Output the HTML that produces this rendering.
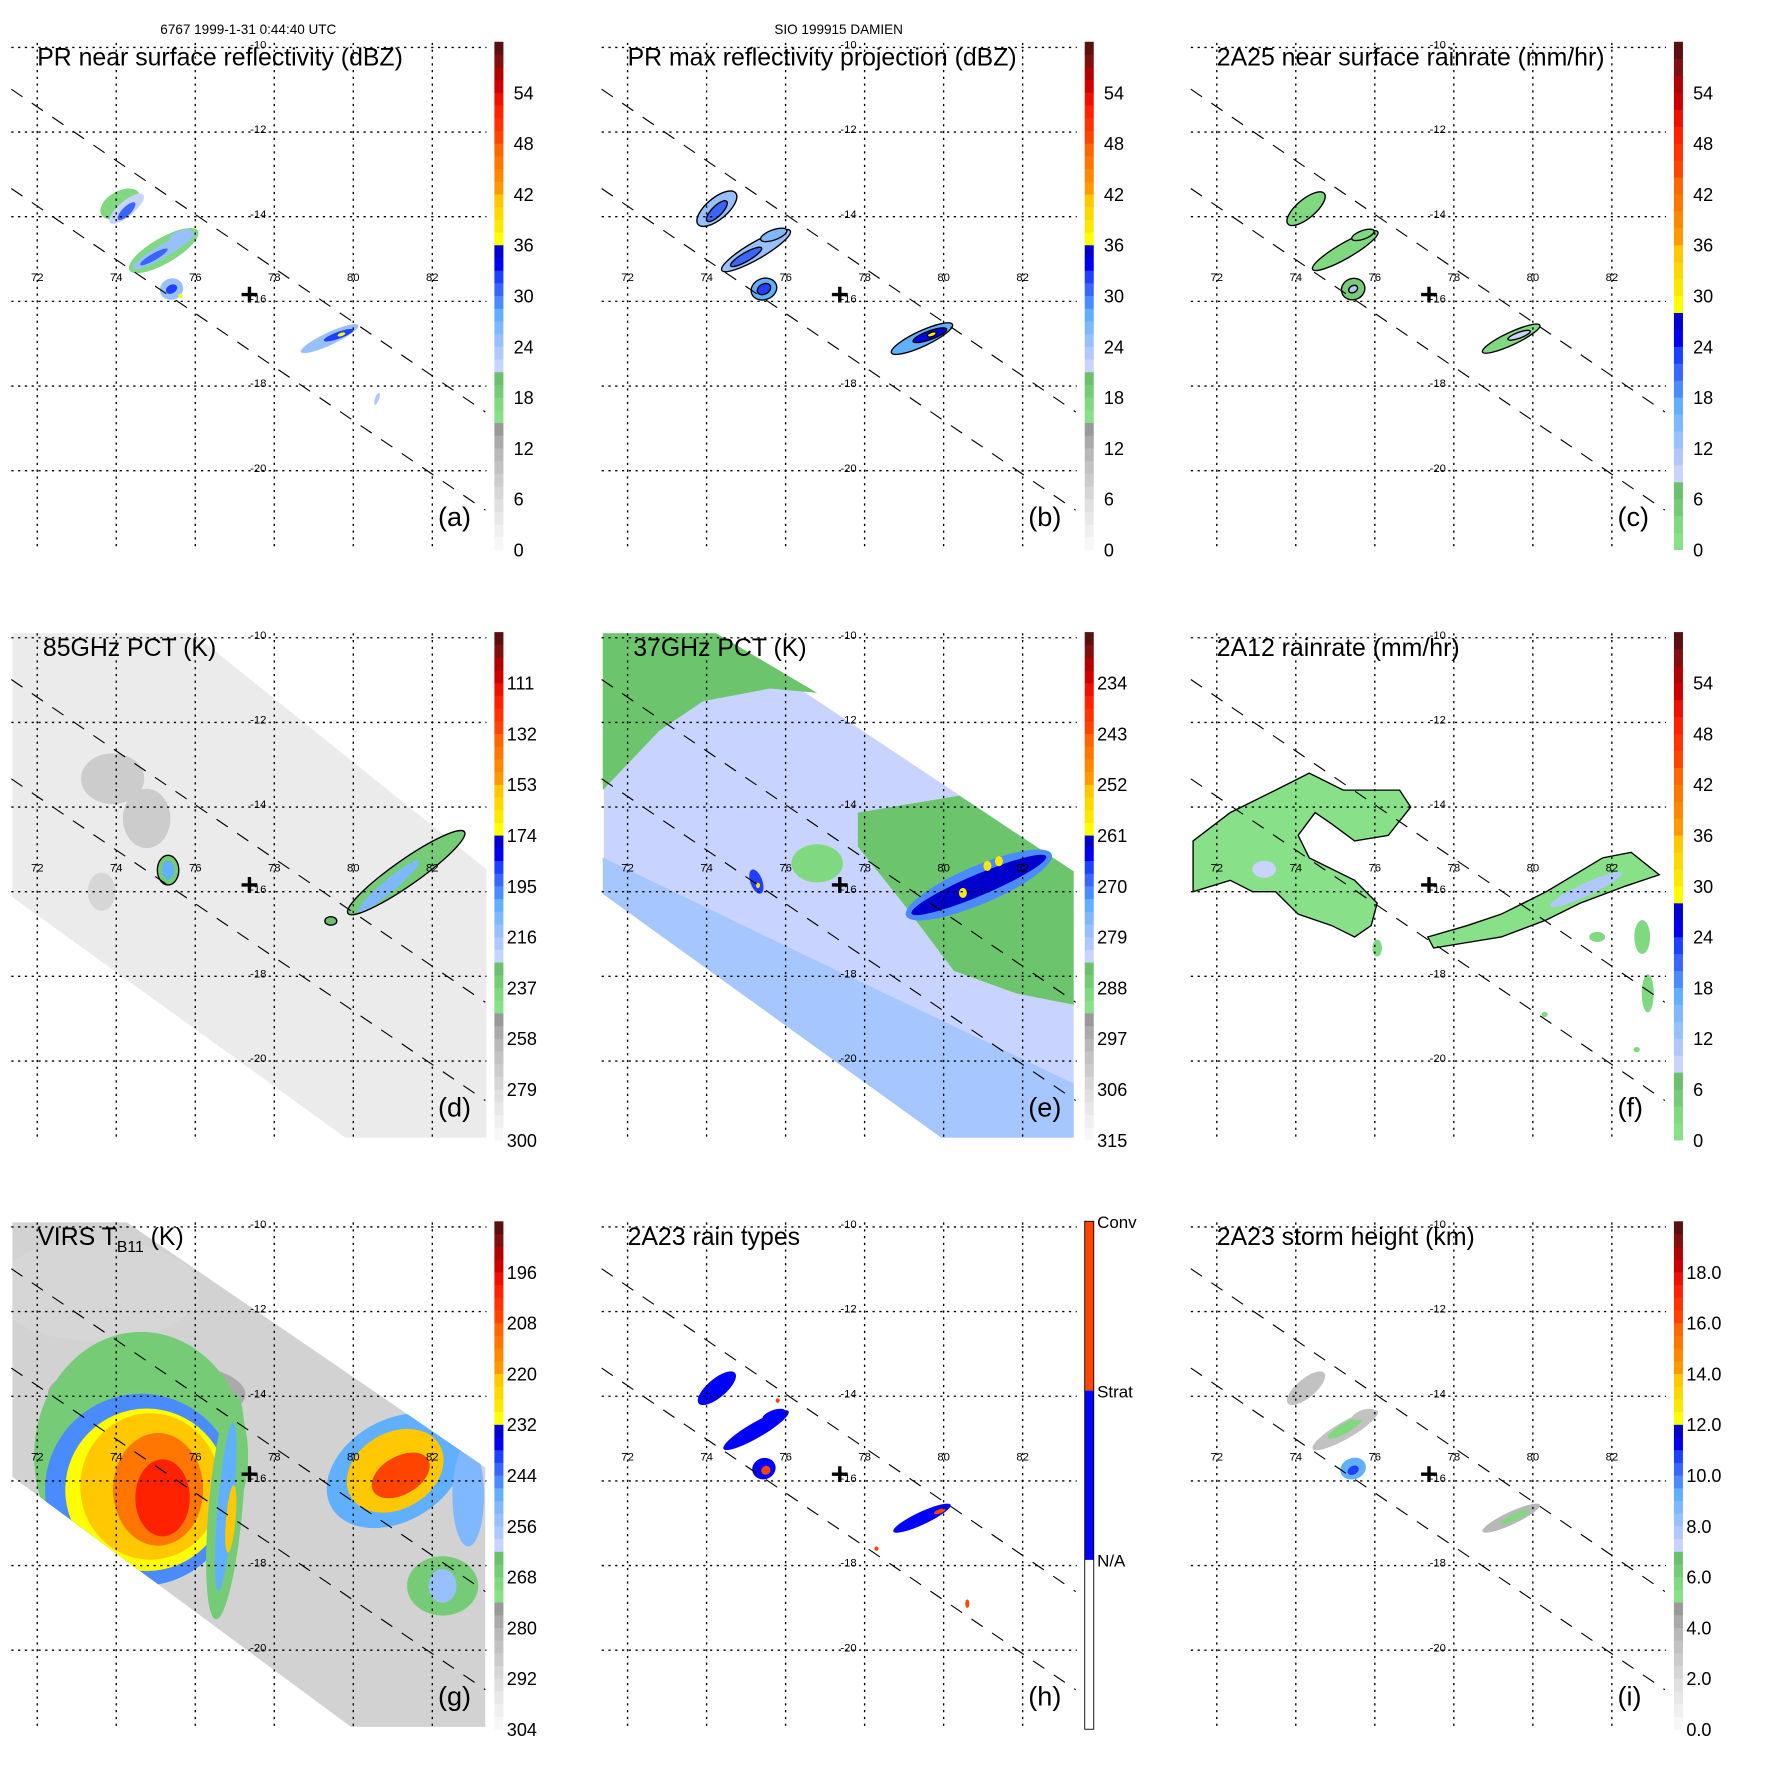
<!DOCTYPE html>
<html><head><meta charset="utf-8">
<style>
html,body{margin:0;padding:0;background:#fff;}
svg{display:block;font-family:"Liberation Sans",sans-serif;}
</style></head>
<body>
<svg id="chart" width="1771" height="1771" viewBox="0 0 1569 1569" xmlns="http://www.w3.org/2000/svg">
<text x="220" y="30" font-size="12" text-anchor="middle">6767 1999-1-31 0:44:40 UTC</text>
<text x="743" y="30" font-size="12" text-anchor="middle">SIO 199915 DAMIEN</text>
</svg>
<script>
// ---------- data ----------
const lonTicks=[72,74,76,78,80,82];
const latTicks=[-10,-12,-14,-16,-18,-20];
const titles=["PR near surface reflectivity (dBZ)","PR max reflectivity projection (dBZ)","2A25 near surface rainrate (mm/hr)","85GHz PCT (K)","37GHz PCT (K)","2A12 rainrate (mm/hr)","VIRS T","2A23 rain types","2A23 storm height (km)"];
const letters=["(a)","(b)","(c)","(d)","(e)","(f)","(g)","(h)","(i)"];
const ticksDBZ=["54","48","42","36","30","24","18","12","6","0"];
const ticks85=["111","132","153","174","195","216","237","258","279","300"];
const ticks37=["234","243","252","261","270","279","288","297","306","315"];
const ticksVIRS=["196","208","220","232","244","256","268","280","292","304"];
const ticksHeight=["18.0","16.0","14.0","12.0","10.0","8.0","6.0","4.0","2.0","0.0"];
const ticksRainType=["Conv","Strat","N/A"];
// blobs: [lon, lat, rxDeg, ryDeg, rotDeg, value]
const blobsA=[[74.1,-13.7,0.55,0.3,-30,17],[74.26,-13.81,0.55,0.18,-40,22],[74.26,-13.87,0.3,0.1,-45,30],[75.2,-14.8,1.0,0.3,-30,17],[75.2,-14.8,0.9,0.15,-30,24],[74.95,-14.95,0.4,0.08,-30,31],[75.63,-14.43,0.3,0.1,-20,25],[75.4,-15.71,0.3,0.25,-20,25],[75.4,-15.71,0.15,0.1,-30,32],[75.63,-15.87,0.06,0.05,0,37],[79.4,-16.88,0.8,0.15,-25,25],[79.63,-16.8,0.4,0.08,-20,32],[79.7,-16.78,0.1,0.04,-20,37],[80.6,-18.3,0.05,0.15,20,23]];
const blobsB=[[74.26,-13.81,0.62,0.25,-40,25],[74.26,-13.87,0.35,0.12,-45,31],[75.25,-14.8,1.0,0.2,-30,25],[75.0,-14.95,0.45,0.1,-30,31],[75.7,-14.43,0.35,0.12,-20,26],[75.45,-15.71,0.33,0.25,-20,27],[75.45,-15.71,0.18,0.12,-30,32],[79.45,-16.88,0.85,0.18,-25,27],[79.65,-16.8,0.45,0.1,-20,33],[79.7,-16.78,0.12,0.05,-20,38]];
const blobsC=[[74.26,-13.81,0.6,0.22,-40,3],[75.25,-14.8,0.95,0.18,-30,3],[75.7,-14.43,0.3,0.1,-20,3],[75.45,-15.71,0.3,0.25,-20,4],[75.45,-15.71,0.12,0.08,-30,10],[79.45,-16.88,0.8,0.15,-25,3],[79.65,-16.8,0.3,0.07,-20,9]];
const swathD=[[71.37,-9.87],[75.91,-9.87],[83.37,-15.47],[83.37,-21.81],[79.8,-21.81],[71.37,-16.13]];
const blobsD=[[73.91,-13.33,0.8,0.6,0,272],[74.77,-14.27,0.6,0.7,0,270],[73.63,-16.0,0.35,0.45,0,277],[75.31,-15.49,0.27,0.35,0,232],[75.31,-15.49,0.15,0.22,0,205],[79.43,-16.69,0.15,0.1,0,228],[81.34,-15.55,1.8,0.3,-35,234],[80.9,-15.87,1.0,0.15,-40,208]];
const swathE=[[71.4,-9.87],[74.2,-9.87],[83.29,-15.52],[83.29,-21.81],[79.94,-21.81],[71.4,-16.05]];
const greenTopE=[[71.37,-9.87],[74.2,-9.87],[76.8,-11.3],[75.6,-11.2],[73.91,-11.5],[72.8,-12.2],[71.37,-13.6]];
const greenRightE=[[77.83,-14.13],[80.4,-13.73],[83.29,-15.52],[83.29,-18.67],[81.83,-18.4],[80.26,-17.87],[78.97,-16.27],[77.83,-14.93]];
const darkLowE=[[71.37,-16.05],[79.94,-21.81],[83.29,-21.81],[83.29,-20.53],[76.11,-17.33],[71.37,-15.19]];
const blobsE=[[76.8,-15.33,0.65,0.45,0,290],[80.89,-15.84,2.0,0.45,-23,272],[80.89,-15.84,1.85,0.25,-23,263],[80.49,-16.03,0.1,0.12,0,258],[81.11,-15.39,0.1,0.12,0,258],[81.4,-15.28,0.1,0.12,0,258],[75.26,-15.76,0.15,0.3,-20,266],[75.3,-15.85,0.05,0.06,0,258]];
const greenLeftF=[[71.4,-14.8],[72.34,-14.13],[73.49,-13.6],[74.34,-13.2],[75.2,-13.6],[76.63,-13.6],[76.91,-14],[76.34,-14.67],[75.49,-14.8],[74.91,-14.4],[74.49,-14.13],[74.06,-14.67],[74.34,-15.2],[75.49,-15.73],[76.06,-16.27],[75.91,-16.8],[75.49,-17.07],[74.91,-16.8],[74.06,-16.53],[73.49,-16],[72.91,-16],[72.34,-15.73],[71.4,-16]];
const greenBandF=[[77.34,-17.07],[78.34,-16.8],[79.2,-16.53],[80.34,-16],[81.77,-15.2],[82.49,-15.07],[83.2,-15.6],[82.34,-15.87],[81.2,-16.27],[80.34,-16.67],[79.2,-17.07],[78.34,-17.2],[77.49,-17.33]];
const blobsF=[[81.34,-15.95,1.0,0.15,-25,10],[73.2,-15.47,0.3,0.2,0,9],[82.77,-17.07,0.2,0.4,0,3],[82.91,-18.4,0.15,0.45,0,3],[81.63,-17.07,0.2,0.12,0,3],[76.06,-17.33,0.12,0.2,0,3],[82.63,-19.73,0.08,0.06,0,3],[80.3,-18.9,0.08,0.06,0,3]];
const swathG=[[71.37,-9.87],[74.23,-9.87],[83.34,-15.68],[83.34,-21.81],[79.94,-21.81],[71.37,-15.9]];
const blobsG=[[73.5,-11.5,2.6,1.2,0,292],[74.77,-13.95,2.5,0.8,0,279],[74.63,-15.41,2.71,2.93,0,266],[74.63,-16.21,2.43,2.27,0,245],[74.77,-16.21,2.06,1.92,0,231],[74.86,-16.13,1.77,1.73,0,221],[75.06,-16.2,1.14,1.33,0,213],[75.17,-16.4,0.69,0.91,0,201],[76.77,-16.61,0.43,2.67,5,266],[76.77,-16.61,0.2,2.0,5,250],[76.9,-16.9,0.12,0.8,5,222],[81.06,-15.76,1.86,1.2,-30,248],[81.06,-15.76,1.3,0.9,-30,222],[81.2,-15.87,0.8,0.45,-30,208],[82.26,-18.48,0.9,0.7,0,266],[82.26,-18.48,0.35,0.4,0,255],[82.91,-16.35,0.4,1.2,0,252]];
const blobsH=[[74.26,-13.81,0.6,0.22,-40,1],[75.25,-14.8,0.95,0.18,-30,1],[75.7,-14.43,0.3,0.1,-20,1],[75.45,-15.71,0.3,0.25,-20,1],[75.5,-15.75,0.12,0.1,-30,2],[79.45,-16.88,0.8,0.15,-25,1],[79.9,-16.72,0.15,0.05,-20,2],[75.8,-14.1,0.05,0.05,0,2],[78.3,-17.6,0.05,0.05,0,2],[80.6,-18.9,0.05,0.1,0,2]];
const blobsI=[[74.26,-13.81,0.6,0.22,-40,3],[75.25,-14.8,0.95,0.2,-30,3],[75.25,-14.75,0.5,0.12,-30,5.5],[75.7,-14.43,0.3,0.1,-20,3],[75.45,-15.71,0.33,0.25,-20,9],[75.45,-15.75,0.15,0.1,-30,10.5],[79.45,-16.88,0.8,0.15,-25,3.5],[79.55,-16.85,0.4,0.08,-25,5.5]];

// ---------- palette ----------
const PAL=["#f7f7f7","#f0f0f0","#e8e8e8","#e0e0e0","#d6d6d6","#cccccc","#c2c2c2","#b8b8b8","#aaaaaa","#999999",
"#88e088","#80d880","#76cc76","#6cbf6c",
"#c8d4ff","#b0c8ff","#98c0ff","#80b8ff","#60b0ff","#4a8cff","#3a66ff","#2040ff","#0000ee","#0000cc",
"#ffff00","#ffe800","#ffd800","#ffc800","#ff9900","#ff8800","#ff7700","#ff6600","#ff4400","#ff3300","#ff2200","#ee1100","#cc0000","#b00000","#801010","#5a1010"];
function colFull(level){let i=Math.floor(level/1.5);return PAL[Math.max(0,Math.min(39,i))];}
function colRain(level){let i=10+Math.floor(level/2);return PAL[Math.max(10,Math.min(39,i))];}
const conv=[
 v=>colFull(v), v=>colFull(v), v=>colRain(v),
 v=>colFull((300-v)*54/189), v=>colFull((315-v)*54/81), v=>colRain(v),
 v=>colFull((304-v)*54/108), v=>(v===2?"#ff4500":"#0000ff"), v=>colFull(v*3)
];

// ---------- axes ----------
const lonToX=lon=>33+(lon-72)*35;
const latToY=lat=>42+(-10-lat)*37.5;

const NS="http://www.w3.org/2000/svg";
const svg=document.getElementById("chart");
function mk(tag,attrs,parent){const e=document.createElementNS(NS,tag);for(const k in attrs)e.setAttribute(k,attrs[k]);parent.appendChild(e);return e;}
const offsets=[[0,0],[523,0],[1045,0],[0,523],[523,523],[1045,523],[0,1045],[523,1045],[1045,1045]];
const panelNames=["pr-near-surface-panel","pr-max-reflectivity-panel","2a25-rainrate-panel","85ghz-pct-panel","37ghz-pct-panel","2a12-rainrate-panel","virs-tb11-panel","2a23-rain-types-panel","2a23-storm-height-panel"];
const defs=mk("defs",{},svg);

function pts(poly){return poly.map(p=>lonToX(p[0]).toFixed(1)+","+latToY(p[1]).toFixed(1)).join(" ");}
function drawPoly(g,poly,fill,stroke,name){
  const p=mk("polygon",{points:pts(poly),fill:fill,stroke:stroke||"none","stroke-width":1.2},g);
  
  
  return p;
}
function drawBlobs(g,blobs,idx,outline,name){
  blobs.forEach(b=>{
    const cx=lonToX(b[0]),cy=latToY(b[1]);
    const e=mk("ellipse",{cx:cx.toFixed(1),cy:cy.toFixed(1),rx:(b[2]*35).toFixed(1),ry:(b[3]*37.5).toFixed(1),transform:`rotate(${b[4]} ${cx.toFixed(1)} ${cy.toFixed(1)})`,fill:conv[idx](b[5]),stroke:outline?"#000":"none","stroke-width":1.2},g);
    
    
  });
}

offsets.forEach((o,i)=>{
  const g=mk("g",{transform:`translate(${o[0]},${o[1]})`},svg);
  
  
  const cid="clip"+i;
  const cp=mk("clipPath",{id:cid},defs);
  mk("rect",{x:10,y:38,width:421,height:448},cp);
  const data=mk("g",{"clip-path":`url(#${cid})`},g);
  
  

  if(i===0) drawBlobs(data,blobsA,0,false,"reflectivity-cell");
  if(i===1) drawBlobs(data,blobsB,1,true,"max-reflectivity-cell");
  if(i===2) drawBlobs(data,blobsC,2,true,"rainrate-cell");
  if(i===3){
    drawPoly(data,swathD,"#ebebeb",null,"tmi-swath");
    drawBlobs(data,blobsD,3,false,"pct85-feature");
    drawBlobs(data,blobsD.filter(b=>b[5]<240&&b[5]>225),3,true,"pct85-contour");
    drawBlobs(data,blobsD.filter(b=>b[5]<215),3,false,"pct85-core");
  }
  if(i===4){
    drawPoly(data,swathE,"#c8d4ff",null,"tmi-swath");
    drawPoly(data,darkLowE,"#a6c6ff",null,"warm-ocean-region");
    drawPoly(data,greenTopE,"#6cc46c",null,"high-pct-region");
    drawPoly(data,greenRightE,"#6cc46c",null,"high-pct-region");
    drawBlobs(data,blobsE,4,false,"pct37-feature");
  }
  if(i===5){
    drawPoly(data,greenLeftF,"#88e088","#000","rain-area");
    drawPoly(data,greenBandF,"#88e088","#000","rain-band");
    drawBlobs(data,blobsF,5,false,"rain-cell");
  }
  if(i===6){
    drawPoly(data,swathG,"#d2d2d2",null,"virs-swath");
    const cg=mk("clipPath",{id:"swg"},defs);
    mk("polygon",{points:pts(swathG)},cg);
    const sg=mk("g",{"clip-path":"url(#swg)"},data);
    
    
    drawBlobs(sg,blobsG,6,false,"cloud-top-feature");
  }
  if(i===7) drawBlobs(data,blobsH,7,false,"rain-type-cell");
  if(i===8) drawBlobs(data,blobsI,8,false,"storm-height-cell");

  // grid
  lonTicks.forEach(lon=>{
    const x=lonToX(lon);
    const l=mk("line",{x1:x,y1:38,x2:x,y2:486,stroke:"#000","stroke-width":1.2,"stroke-dasharray":"2 4"},g);
    
    
    const t=mk("text",{x:x,y:249,"font-size":10,"text-anchor":"middle"},g);
    
    
    t.textContent=lon;
  });
  latTicks.forEach(lat=>{
    const y=latToY(lat);
    const l=mk("line",{x1:10,y1:y,x2:431,y2:y,stroke:"#000","stroke-width":1.2,"stroke-dasharray":"2 4"},g);
    
    
    const t=mk("text",{x:236,y:y+1,"font-size":10,"text-anchor":"end"},g);
    
    
    t.textContent=lat;
  });
  // swath edges
  [[79,365],[167,452]].forEach(d=>{
    const l=mk("line",{x1:10,y1:d[0],x2:430,y2:d[1],stroke:"#000","stroke-width":1,"stroke-dasharray":"12 10"},g);
    
    
  });
  // storm center cross
  const cr=mk("path",{d:"M214,259.5h14v3h-14zM219.5,254h3v14h-3z",fill:"#000"},g);
  
  
  // title
  const tt=mk("text",{x:(i===3||i===4)?38:33,y:58,"font-size":22},g);
  
  
  tt.textContent=titles[i];
  if(i===6){
    const s=mk("tspan",{"font-size":14,dy:6},tt); s.textContent="B11";
    
    
    const s2=mk("tspan",{dy:-6},tt); s2.textContent="  (K)";
    
    
  }
  const lt=mk("text",{x:388,y:466,"font-size":24},g);
  
  
  lt.textContent=letters[i];

  // colorbar
  const cb=mk("g",{},g);
  
  
  if(i===7){
    [["#ff4500",37],["#0000ff",187],["#ffffff",337]].forEach(s=>{
      const r=mk("rect",{x:438,y:s[1],width:8,height:150,fill:s[0]},cb);
      
      
    });
    const ob=mk("rect",{x:438,y:37,width:8,height:450,fill:"none",stroke:"#000","stroke-width":0.8},cb);
    
    
    ticksRainType.forEach((t,k)=>{
      const tx=mk("text",{x:449,y:43+150*k,"font-size":15},cb);
      
      
      tx.textContent=t;
    });
  } else {
    const rain=(i===2||i===5);
    const n=rain?30:40, h=450/n;
    for(let k=0;k<n;k++){
      const c=PAL[rain?10+k:k];
      const r=mk("rect",{x:438,y:(487-(k+1)*h).toFixed(2),width:8,height:(h+0.3).toFixed(2),fill:c},cb);
      
      
    }
    const labs=[ticksDBZ,ticksDBZ,ticksDBZ,ticks85,ticks37,ticksDBZ,ticksVIRS,null,ticksHeight][i];
    labs.forEach((t,k)=>{
      const tx=mk("text",{x:(labs===ticksHeight||t.length>2)?449:455,y:88+45*k,"font-size":16},cb);
      
      
      tx.textContent=t;
    });
  }
});
</script>
</body></html>
